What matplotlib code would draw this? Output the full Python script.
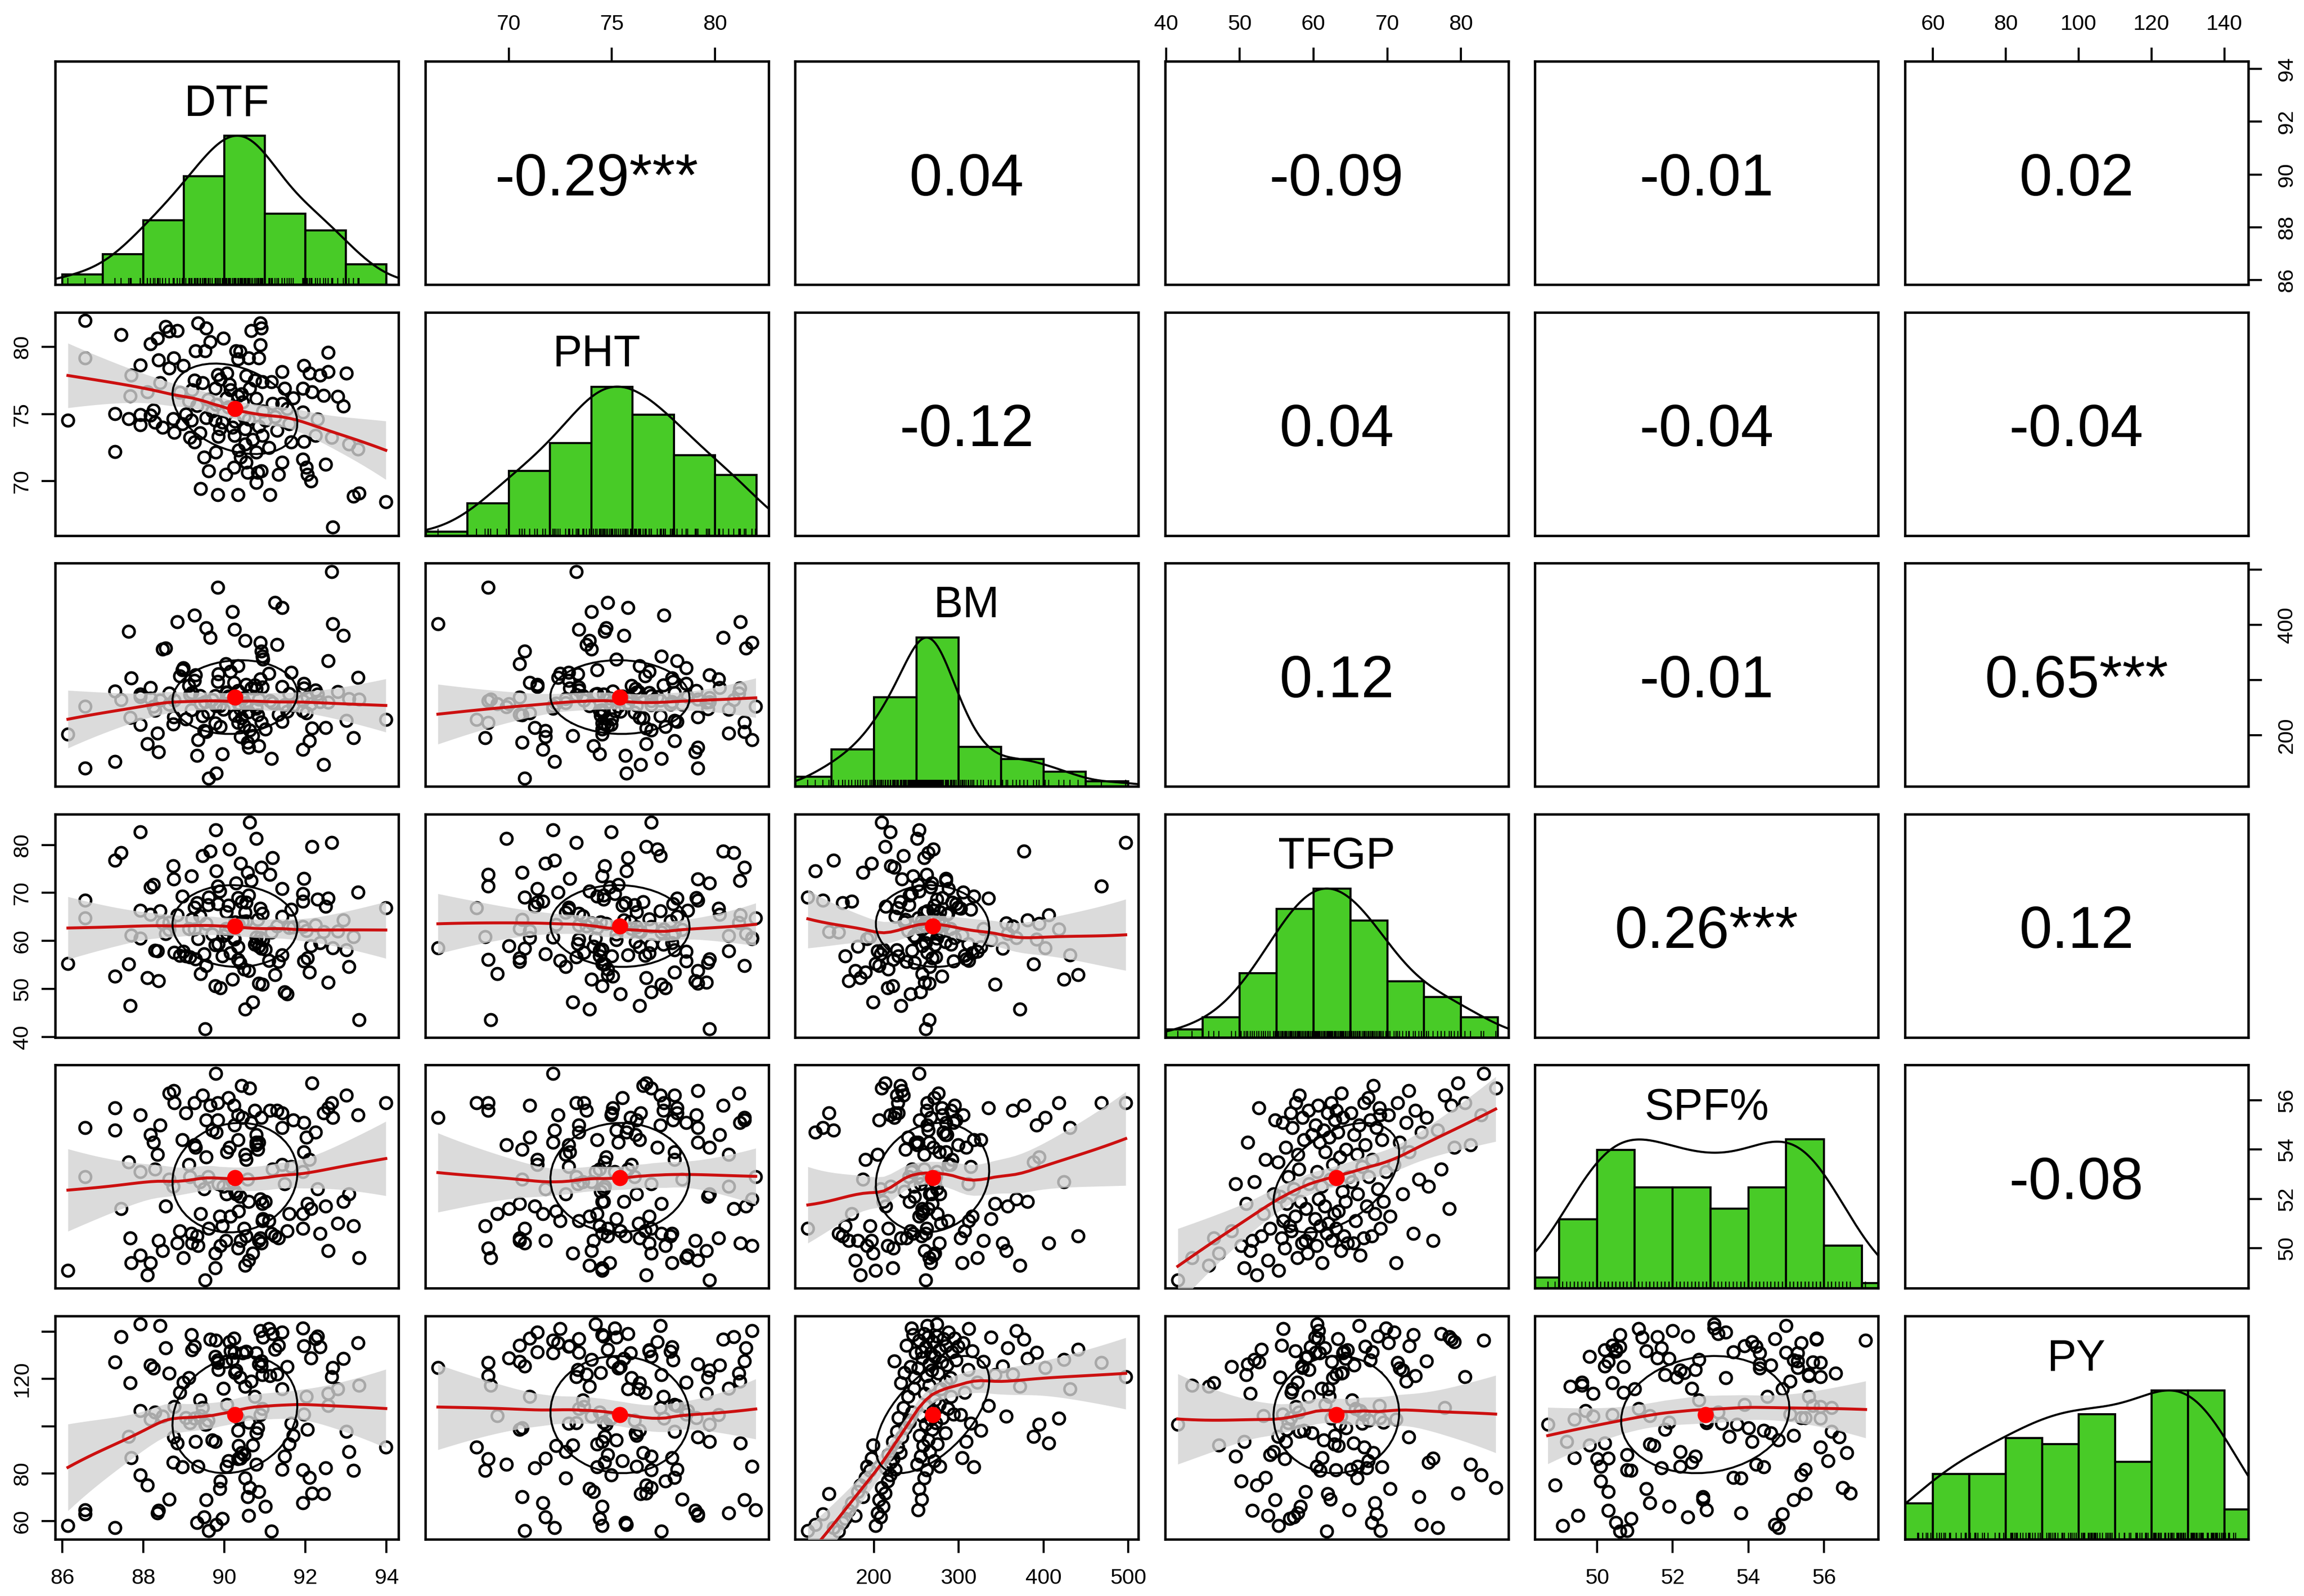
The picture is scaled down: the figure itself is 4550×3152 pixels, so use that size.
#%% Pairs panels: DTF, PHT, BM, TFGP, SPF%, PY (psych::pairs.panels style)

import numpy as np
import matplotlib
matplotlib.use("Agg")
import matplotlib.pyplot as plt

plt.rcParams['font.family'] = ['Liberation Sans', 'DejaVu Sans']

#%% ============================================================================
# DATA (150 observations, read off the panels)
# ============================================================================

names = ['DTF', 'PHT', 'BM', 'TFGP', 'SPF%', 'PY']

dtf = [86.56, 86.14, 86.56, 87.30, 87.30, 87.70, 87.67, 87.93, 87.64, 87.93,
       87.93, 88.10, 88.18, 88.29, 88.18, 88.35, 88.64, 88.83, 88.38, 88.64,
       88.75, 88.98, 88.41, 88.47, 88.73, 88.76, 88.96, 89.12, 89.18, 89.15,
       89.26, 89.35, 89.55, 89.29, 89.52, 89.26, 89.46, 89.77, 89.32, 89.55,
       89.77, 89.88, 89.85, 89.97, 89.83, 90.06, 89.50, 89.78, 89.61, 90.03,
       89.41, 89.83, 90.34, 90.23, 90.40, 90.51, 90.51, 90.26, 90.34, 90.28,
       90.39, 90.34, 90.54, 90.62, 90.60, 90.79, 90.88, 90.91, 90.88, 90.85,
       90.57, 90.82, 90.79, 90.91, 90.54, 90.79, 90.93, 91.01, 91.12, 90.93,
       91.16, 91.19, 91.42, 91.42, 91.48, 91.30, 91.33, 91.42, 91.65, 91.59,
       91.93, 91.96, 91.93, 92.10, 92.16, 92.36, 92.45, 92.56, 92.56, 93.01,
       92.93, 91.96, 91.93, 92.02, 92.04, 92.13, 92.24, 92.50, 92.64, 93.07,
       93.29, 93.18, 93.32, 92.67, 93.98,
       87.45, 88.55, 88.90, 88.25, 89.60, 89.70, 89.90, 89.40, 89.95, 89.65,
       89.20, 89.80, 89.05, 90.10, 90.20, 90.45, 90.70, 90.15, 90.60, 90.35,
       90.75, 90.05, 90.95, 90.48, 90.66, 90.25, 90.85, 90.12, 90.42, 91.25,
       91.70, 91.10, 91.55, 92.30, 92.80]

pht = [81.97, 74.52, 79.16, 75.03, 72.21, 77.90, 76.34, 78.66, 74.65, 74.96,
       74.21, 76.65, 74.90, 74.40, 80.22, 80.66, 81.16, 81.22, 79.03, 78.41,
       79.16, 78.60, 77.34, 74.02, 74.65, 73.65, 74.27, 75.96, 74.52, 73.27,
       72.90, 81.79, 81.41, 79.72, 79.72, 77.53, 77.34, 76.90, 75.65, 74.71,
       74.52, 73.90, 73.34, 80.66, 77.95, 78.03, 71.77, 72.15, 70.77, 70.52,
       69.45, 69.00, 69.00, 71.02, 71.77, 72.77, 73.90, 74.46, 76.34, 79.72,
       79.66, 79.09, 77.84, 76.90, 79.16, 76.15, 81.79, 81.41, 80.16, 79.16,
       70.64, 70.64, 69.89, 70.77, 71.39, 72.15, 73.40, 74.52, 69.00, 77.40,
       77.40, 75.78, 75.78, 78.15, 76.90, 73.77, 70.52, 71.39, 72.90, 74.27,
       75.15, 78.60, 76.90, 78.03, 76.65, 77.90, 76.40, 78.15, 79.59, 78.03,
       75.59, 72.96, 71.65, 71.02, 70.52, 70.02, 73.40, 71.27, 73.27, 72.77,
       72.40, 68.87, 69.12, 66.57, 68.45,
       80.9, 81.5, 76.6, 75.3, 76.1, 75.2, 77.6, 73.6, 74.4, 80.4,
       76.8, 75.7, 75.0, 75.5, 74.0, 75.9, 73.1, 76.8, 74.6, 72.3,
       77.5, 76.2, 75.2, 74.8, 81.2, 73.4, 74.1, 77.2, 76.5, 74.8,
       76.2, 72.5, 75.4, 74.6, 76.3]

bm = [252, 202, 140, 280, 152, 304, 232, 270, 388, 219, 274, 184, 267, 245, 286,
      204, 276, 406, 170, 256, 233, 322, 263, 356, 220, 263, 318, 290, 246, 273,
      299, 192, 206, 309, 261, 418, 235, 272, 163, 395, 222, 253, 311, 247, 297, 277,
      208, 253, 122, 329, 257, 468, 223, 295, 197, 259, 372, 236, 326, 268, 248, 281,
      256, 209, 178, 284, 368, 224, 302, 265, 187, 237, 251, 352, 292, 249, 287,
      211, 262, 343, 158, 259, 431, 225, 255, 364, 238, 288, 314, 275, 244, 294,
      262, 190, 213, 261, 147, 335, 260, 227, 381, 285, 174, 240, 269, 257,
      282, 214, 497, 266, 305, 195, 265, 402, 228, 264, 358, 307, 252, 241, 264,
      216, 272, 166, 377, 277, 131, 229, 271, 424, 267, 199, 316, 242, 258, 291,
      278, 338, 217, 285, 392, 181, 270, 231, 441, 254, 312, 243, 274, 279]

py = [64.8, 58.1, 63.0, 127.1, 57.2, 86.7, 118.4, 106.6, 95.7, 79.4, 143.1, 75.1, 102.9, 105.9, 125.8,
      63.5, 122.5, 92.9, 64.5, 69.1, 95.4, 118.6, 142.6, 104.2, 84.7, 108.3, 82.9, 120.6, 138.6, 101.4,
      133.8, 83.0, 68.9, 93.6, 100.8, 103.3, 108.0, 129.4, 59.4, 100.9, 93.5, 73.6, 123.9, 116.1, 128.0, 109.2,
      61.7, 136.4, 56.0, 127.4, 104.5, 127.0, 86.2, 137.2, 86.5, 78.2, 116.8, 122.7, 98.2, 123.7, 120.8, 103.7,
      131.7, 74.2, 62.3, 97.2, 140.4, 127.5, 104.8, 126.2, 70.2, 99.3, 84.0, 125.5, 131.4, 131.0, 107.5,
      66.3, 121.3, 121.8, 55.8, 139.2, 115.7, 81.9, 87.3, 122.1, 134.2, 139.7, 101.2, 92.4, 141.5, 105.1,
      81.6, 78.3, 71.8, 133.5, 71.5, 108.7, 113.9, 97.8, 128.6, 134.0, 67.8, 112.5, 98.7, 128.9,
      136.9, 82.5, 121.0, 89.4, 135.3, 81.4, 117.4, 124.8, 91.2, 137.8, 133.1, 114.3, 124.6, 102.6, 94.3,
      77.0, 111.2, 61.0, 136.7, 132.3, 58.5, 103.6, 85.5, 128.3, 130.9, 92.0, 131.9, 101.7, 91.8, 112.6,
      83.2, 137.6, 88.1, 119.1, 131.2, 72.4, 135.6, 88.9, 132.5, 96.1, 141.2, 125.3, 138.1, 115.8]

tfgp = [64.8, 55.3, 68.5, 52.6, 76.8, 61.2, 46.5, 66.3, 55.2, 82.7, 60.5, 52.3, 71.2, 58.0, 65.5,
        57.9, 63.8, 65.4, 51.7, 62.3, 72.9, 57.8, 66.2, 63.7, 75.6, 57.6, 69.3, 62.6, 73.5, 56.6,
        67.0, 60.4, 54.8, 56.2, 41.6, 62.4, 77.8, 59.2, 67.9, 63.6, 50.6, 70.4, 59.4, 61.1, 67.7,
        61.6, 57.3, 83.1, 69.1, 62.5, 53.2, 71.4, 56.1, 60.6, 76.2, 65.9, 45.8, 63.9, 58.7, 72.1,
        55.5, 69.0, 64.1, 84.7, 53.8, 59.8, 60.7, 75.3, 66.8, 51.1, 74.3, 64.4, 81.3, 58.4, 68.0,
        60.8, 65.7, 58.2, 73.8, 50.9, 61.8, 77.3, 57.1, 65.1, 49.4, 63.1, 55.7, 70.9, 66.6, 62.8,
        69.8, 55.8, 63.0, 53.5, 79.6, 59.6, 61.9, 68.9, 51.4, 58.1, 64.3, 73.0, 68.3, 62.1, 56.4,
        59.0, 63.3, 67.2, 80.5, 54.6, 70.2, 60.9, 43.5, 58.5, 66.9, 78.4, 61.5, 57.0, 71.7, 67.5,
        61.4, 50.2, 65.2, 56.8, 78.7, 64.6, 74.6, 56.9, 67.4, 52.0, 64.0, 47.2, 57.5, 69.5, 63.4,
        59.3, 66.0, 60.2, 54.1, 72.6, 60.3, 58.9, 79.1, 68.1, 52.9, 62.9, 55.9, 48.9, 68.7, 62.0]

spf = [52.9, 49.1, 54.9, 55.7, 54.8, 49.4, 50.4, 49.7, 53.5, 55.4, 53.1, 48.9, 49.4, 53.2, 54.6,
       53.8, 56.3, 50.2, 50.3, 52.8, 56.4, 49.6, 55.0, 49.9, 52.5, 55.9, 54.4, 53.4, 50.6, 52.9,
       54.2, 50.1, 55.2, 54.1, 48.7, 55.9, 56.2, 49.8, 50.5, 53.7, 49.2, 51.3, 52.6, 52.5, 55.2,
       53.9, 52.4, 57.1, 50.8, 50.3, 51.4, 55.9, 50.0, 55.8, 50.3, 53.8, 49.3, 52.3, 54.4, 52.2,
       52.1, 55.4, 50.5, 56.5, 49.5, 54.6, 52.0, 55.3, 50.4, 54.3, 52.8, 54.0, 54.2, 50.2, 53.6,
       54.3, 51.1, 51.9, 55.6, 51.8, 50.6, 53.2, 54.9, 55.5, 52.6, 55.6, 50.4, 53.4, 53.3, 51.4,
       53.1, 55.1, 50.8, 53.6, 56.7, 50.6, 55.5, 55.7, 49.9, 56.2, 51.9, 53.9, 51.4, 54.5, 51.8,
       51.6, 54.7, 51.7, 55.9, 52.2, 55.4, 50.9, 49.6, 55.3, 55.9, 51.6, 51.7, 50.7, 54.3, 52.9,
       54.8, 50.1, 52.7, 50.9, 55.8, 50.2, 54.7, 55.5, 56.1, 52.7, 55.3, 49.8, 51.3, 51.9, 51.5,
       55.6, 52.2, 51.2, 50.8, 55.1, 55.0, 50.3, 54.1, 56.6, 50.5, 55.2, 51.1, 50.7, 52.4, 51.0]

# histogram breaks
dtf_breaks = [86, 87, 88, 89, 90, 91, 92, 93, 94]
pht_breaks = [66, 68, 70, 72, 74, 76, 78, 80, 82]
bm_breaks = [100, 150, 200, 250, 300, 350, 400, 450, 500]
tfgp_breaks = [40, 45, 50, 55, 60, 65, 70, 75, 80, 85]
spf_breaks = [48, 49, 50, 51, 52, 53, 54, 55, 56, 57, 58]
py_breaks = [50, 60, 70, 80, 90, 100, 110, 120, 130, 140, 150]

# axis ticks and labels (vertical axes drop overlapping labels, as in R)
dtf_ticks = [86, 88, 90, 92, 94]
pht_ticks = [70, 75, 80]
bm_ticks = [200, 300, 400, 500]
tfgp_ticks = [40, 50, 60, 70, 80]
spf_ticks = [50, 52, 54, 56]
py_ticks = [60, 80, 100, 120, 140]

dtf_ylab = ['86', '88', '90', '92', '94']
pht_ylab = ['70', '75', '80']
bm_ylab = ['200', '', '400', '']
tfgp_ylab = ['40', '50', '60', '70', '80']
spf_ylab = ['50', '52', '54', '56']
py_ylab = ['60', '80', '', '120', '']

# correlations printed in the upper panels (row by row)
cor_text = ['-0.29***', '0.04', '-0.09', '-0.01', '0.02',
            '-0.12', '0.04', '-0.04', '-0.04',
            '0.12', '-0.01', '0.65***',
            '0.26***', '0.12',
            '-0.08']

#%% ============================================================================
# HELPERS
# ============================================================================

def densidade(x, adjust=1.2):
    # density(x, bw="nrd", adjust=1.2), scaled to max 1
    n = len(x)
    sd = np.std(x, ddof=1)
    q75, q25 = np.percentile(x, [75, 25])
    bw = 1.06 * min(sd, (q75 - q25) / 1.34) * n ** (-0.2) * adjust
    g = np.linspace(x.min() - 3 * bw, x.max() + 3 * bw, 512)
    d = np.exp(-0.5 * ((g[:, None] - x[None, :]) / bw) ** 2).sum(axis=1)
    return g, d / d.max()


def loess(x, y, xnew, span=0.75, iters=4):
    # local linear loess, family = "symmetric", with standard errors
    n = len(x)
    q = int(np.floor(n * span))

    def rows(pts, rob):
        out = []
        for x0 in pts:
            d = np.abs(x - x0)
            h = max(np.sort(d)[q - 1], 1e-9)
            w = np.clip(1 - (d / h) ** 3, 0, None) ** 3 * rob
            X = np.column_stack([np.ones(n), x - x0])
            XtW = X.T * w
            out.append(np.linalg.solve(XtW @ X, XtW)[0])
        return np.array(out)

    rob = np.ones(n)
    for _ in range(iters):
        L = rows(x, rob)
        res = y - L @ y
        s = np.median(np.abs(res))
        u = res / (6 * s)
        rob = np.where(np.abs(u) < 1, (1 - u ** 2) ** 2, 0.0)
    L = rows(x, rob)
    res = y - L @ y
    Ln = rows(xnew, rob)
    fit = Ln @ y
    delta = n - 2 * np.trace(L) + np.sum(L ** 2)
    sigma = np.sqrt(np.sum(res ** 2) / delta)
    se = sigma * np.sqrt(np.sum(Ln ** 2, axis=1))
    return fit, se

#%% ============================================================================
# FIGURE
# ============================================================================

dados = [np.array(v, dtype=float) for v in (dtf, pht, bm, tfgp, spf, py)]
breaks = [dtf_breaks, pht_breaks, bm_breaks, tfgp_breaks, spf_breaks, py_breaks]
ticks = [dtf_ticks, pht_ticks, bm_ticks, tfgp_ticks, spf_ticks, py_ticks]
ylabs = [dtf_ylab, pht_ylab, bm_ylab, tfgp_ylab, spf_ylab, py_ylab]

lims = []
for v in dados:
    r = v.max() - v.min()
    lims.append((v.min() - 0.04 * r, v.max() + 0.04 * r))

W, H = 4550, 3152
fig = plt.figure(figsize=(W / 100, H / 100), dpi=100)
fig.patch.set_facecolor('white')

verde = '#48CB27'
k = 0
for i in range(6):
    for j in range(6):
        x0 = 109 + j * 730.6
        y0 = 121 + i * 495.6
        ax = fig.add_axes([x0 / W, 1 - (y0 + 441) / H, 678 / W, 441 / H])
        ax.set_xlim(lims[j])
        xv, yv = dados[j], dados[i]

        if i == j:
            cont, ed = np.histogram(xv, bins=breaks[i])
            ax.bar(ed[:-1], cont / cont.max(), width=np.diff(ed), align='edge',
                   color=verde, edgecolor='black', linewidth=3.0, zorder=2)
            g, d = densidade(xv)
            ax.plot(g, d, color='black', lw=3.0, zorder=3)
            ax.vlines(xv, 0, 0.045, color='black', lw=1.6, zorder=4)
            ax.set_ylim(0, 1.5)
            ax.text(0.5, 0.757, names[i], transform=ax.transAxes, ha='center',
                    va='baseline', fontsize=62.5)
        elif i < j:
            ax.set_ylim(lims[i])
            ax.text(0.5, 0.40, cor_text[k], transform=ax.transAxes, ha='center',
                    va='baseline', fontsize=84)
            k += 1
        else:
            ax.set_ylim(lims[i])
            ax.plot(xv, yv, 'o', ms=16.5, mfc='none', mec='black', mew=3.6, zorder=2)
            xs = np.linspace(xv.min(), xv.max(), 47)
            fit, se = loess(xv, yv, xs)
            ax.fill_between(xs, fit - 1.977 * se, fit + 1.977 * se, color='#D3D3D3',
                            alpha=0.8, lw=0, zorder=3)
            ax.plot(xs, fit, color='#CC1010', lw=4.2, zorder=4)
            # correlation ellipse (1 sd) + mean point
            r = np.corrcoef(xv, yv)[0, 1]
            t = np.sign(r) / np.sqrt(2) if abs(r) > 0 else 1 / np.sqrt(2)
            ang = np.arange(52) * 2 * np.pi / 51
            ex = np.cos(ang) * np.sqrt(1 + r) * t - np.sin(ang) * np.sqrt(1 - r) * t
            ey = np.cos(ang) * np.sqrt(1 + r) * t + np.sin(ang) * np.sqrt(1 - r) * t
            ax.plot(ex * xv.std(ddof=1) + xv.mean(), ey * yv.std(ddof=1) + yv.mean(),
                    color='black', lw=2.8, zorder=5)
            ax.plot(xv.mean(), yv.mean(), 'o', ms=23, color='red', mec='none', zorder=6)

        ax.set_xticks([])
        ax.set_yticks([])
        if i == 0 and j % 2 == 1:
            ax.xaxis.tick_top()
            ax.set_xticks(ticks[j])
            ax.set_xticklabels([str(v) for v in ticks[j]])
            ax.tick_params(axis='x', pad=19)
        if i == 5 and j % 2 == 0:
            ax.set_xticks(ticks[j])
            ax.set_xticklabels([str(v) for v in ticks[j]])
            ax.tick_params(axis='x', pad=22)
        if j == 0 and i % 2 == 1:
            ax.set_yticks(ticks[i])
            ax.set_yticklabels(ylabs[i], rotation=90, va='center')
            ax.tick_params(axis='y', pad=13)
        if j == 5 and i % 2 == 0:
            ax.yaxis.tick_right()
            ax.set_yticks(ticks[i])
            ax.set_yticklabels(ylabs[i], rotation=90, va='center')
            ax.tick_params(axis='y', pad=21)
        ax.tick_params(direction='out', length=19.4, width=3.0, labelsize=31)
        for s in ax.spines.values():
            s.set_linewidth(3.4)

fig.savefig('out.png', dpi=100, facecolor='white')
